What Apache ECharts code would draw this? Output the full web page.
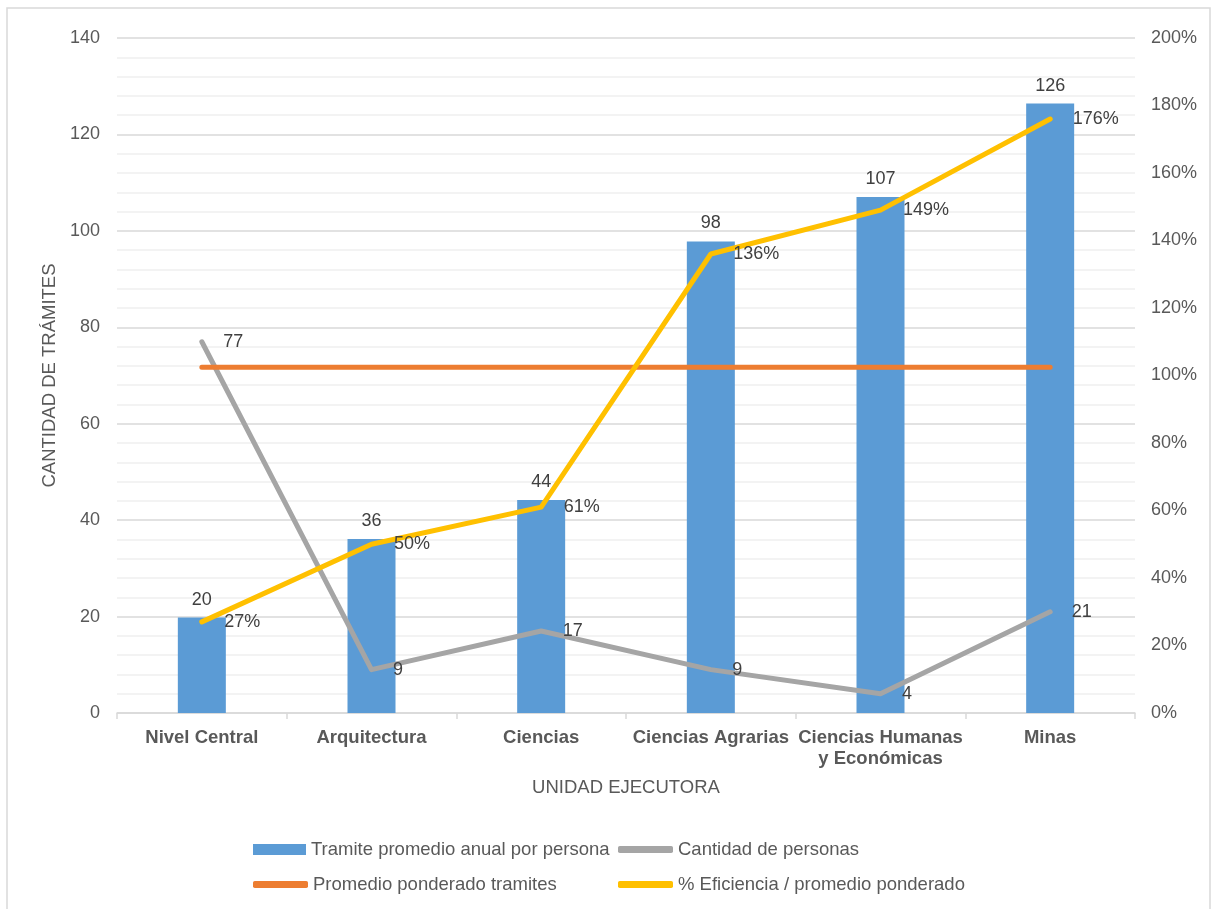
<!DOCTYPE html>
<html>
<head>
<meta charset="utf-8">
<script src="https://cdn.jsdelivr.net/npm/echarts@6/dist/echarts.min.js"></script>
<style>html,body{margin:0;padding:0;background:#fff;}#c{width:1218px;height:909px;}</style>
</head>
<body>
<div id="c"></div>
<script>
const categories = ['Nivel Central', 'Arquitectura', 'Ciencias', 'Ciencias Agrarias', 'Ciencias Humanas\ny Económicas', 'Minas'];
const tramitePromedio = [19.8, 36.1, 44.2, 97.8, 107, 126.4];
const cantidadPersonas = [77, 9, 17, 9, 4, 21];
const promedioPonderado = [71.7, 71.7, 71.7, 71.7, 71.7, 71.7];
const eficiencia = [0.27, 0.50, 0.61, 1.36, 1.49, 1.76];
const leftTicks = { min: 0, max: 140, interval: 20 };
const rightTicks = { min: 0, max: 2, interval: 0.2 };

const FONT = 'Liberation Sans, Arial, sans-serif';
const chart = echarts.init(document.getElementById('c'));
const lblStyle = { fontFamily: FONT, fontSize: 18, color: '#404040' };
function legendItem(name, left, top, icon, w, h) {
  return {
    data: [name], left: left, top: top, icon: icon, itemWidth: w, itemHeight: h,
    textStyle: { fontFamily: FONT, fontSize: 18.5, color: '#595959' }, padding: 0, selectedMode: false
  };
}
chart.setOption({
  animation: false,
  backgroundColor: '#fff',
  graphic: [{
    type: 'rect', shape: { x: 7, y: 8, width: 1203, height: 910 },
    style: { fill: 'none', stroke: '#d9d9d9', lineWidth: 1.5 }, silent: true
  }],
  grid: { left: 117, right: 83, top: 38, bottom: 196, containLabel: false },
  legend: [
    legendItem('Tramite promedio anual por persona', 253, 840, 'rect', 53, 11),
    legendItem('Cantidad de personas', 618, 840, 'roundRect', 55, 7),
    legendItem('Promedio ponderado tramites', 253, 875, 'roundRect', 55, 7),
    legendItem('% Eficiencia / promedio ponderado', 618, 875, 'roundRect', 55, 7)
  ],
  xAxis: {
    type: 'category', data: categories,
    name: 'UNIDAD EJECUTORA', nameLocation: 'middle', nameGap: 65,
    nameTextStyle: { fontFamily: FONT, fontSize: 18.5, color: '#595959' },
    axisLine: { lineStyle: { color: '#d9d9d9', width: 1.5 } },
    axisTick: { show: true, length: 6, lineStyle: { color: '#d9d9d9', width: 1.5 } },
    axisLabel: { fontFamily: FONT, fontSize: 18.5, fontWeight: 'bold', color: '#595959', margin: 14, lineHeight: 21, interval: 0 }
  },
  yAxis: [{
    type: 'value', min: leftTicks.min, max: leftTicks.max, interval: leftTicks.interval,
    name: 'CANTIDAD DE TRÁMITES', nameLocation: 'middle', nameGap: 57, nameRotate: 90,
    nameTextStyle: { fontFamily: FONT, fontSize: 18.5, color: '#595959' },
    axisLine: { show: false }, axisTick: { show: false },
    axisLabel: { fontFamily: FONT, fontSize: 18, color: '#595959', margin: 17 },
    splitLine: { lineStyle: { color: '#d9d9d9', width: 1.5 } },
    minorTick: { show: false, splitNumber: 5 },
    minorSplitLine: { show: true, lineStyle: { color: '#f0f0f0', width: 1.5 } }
  }, {
    type: 'value', min: rightTicks.min, max: rightTicks.max, interval: rightTicks.interval,
    axisLine: { show: false }, axisTick: { show: false }, splitLine: { show: false },
    axisLabel: { fontFamily: FONT, fontSize: 18, color: '#595959', margin: 16,
      formatter: v => Math.round(v * 100) + '%' }
  }],
  series: [{
    name: 'Tramite promedio anual por persona', type: 'bar', data: tramitePromedio,
    barWidth: 48, itemStyle: { color: '#5B9BD5' },
    label: { show: true, position: 'top', distance: 9, ...lblStyle, formatter: p => Math.round(p.value) }
  }, {
    name: 'Cantidad de personas', type: 'line', data: cantidadPersonas,
    symbol: 'circle', symbolSize: 1, showSymbol: true,
    lineStyle: { color: '#A5A5A5', width: 5, cap: 'round', join: 'round' }, itemStyle: { color: '#A5A5A5' },
    label: { show: true, position: 'right', distance: 21, ...lblStyle }
  }, {
    name: 'Promedio ponderado tramites', type: 'line', data: promedioPonderado,
    symbol: 'none', lineStyle: { color: '#ED7D31', width: 5, cap: 'round' }, itemStyle: { color: '#ED7D31' }
  }, {
    name: '% Eficiencia / promedio ponderado', type: 'line', yAxisIndex: 1, data: eficiencia,
    symbol: 'circle', symbolSize: 1, showSymbol: true,
    lineStyle: { color: '#FFC000', width: 5, cap: 'round', join: 'round' }, itemStyle: { color: '#FFC000' },
    label: { show: true, position: 'right', distance: 22, ...lblStyle,
      formatter: p => Math.round(p.value * 100) + '%' }
  }]
});
</script>
</body>
</html>
